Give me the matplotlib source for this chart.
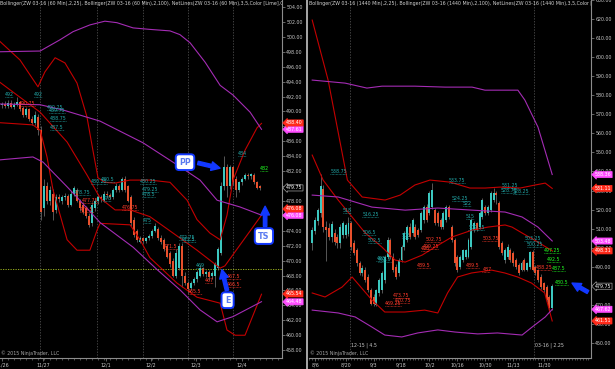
import matplotlib
matplotlib.use('Agg')
import matplotlib.pyplot as plt
import matplotlib.transforms as mtransforms
from matplotlib.lines import Line2D
from matplotlib.ticker import FormatStrFormatter, FixedLocator, MultipleLocator

UP = '#3cc8c0'
DOWN = '#e8502c'
DOJI = '#b0b0b0'
WICK = '#7a7a7a'
RED = '#c40000'
PURPLE = '#a42cb4'
CYAN = '#22a8a8'
LBL_RED = '#ff3a2a'
LIME = '#22ff22'
AXIS = '#8c8c8c'
TXT = '#c8c8c8'
BLUE = '#1238ff'

# ---------------- 60 min chart (left) ----------------
l_open = [490.8, 491.0, 490.7, 491.1, 490.6, 490.9, 491.2, 490.4, 489.5, 490.3,
          489.0, 488.5, 489.3, 487.5, 477.0, 480.0, 478.0, 479.0, 476.8, 478.5,
          478.0, 478.5, 478.7, 477.5, 479.0, 479.5, 478.0, 477.5, 477.0, 476.0,
          475.0, 477.0, 478.0, 478.5, 478.0, 479.0, 478.8, 478.5, 479.5, 480.0,
          479.5, 481.0, 480.0, 478.5, 475.5, 474.0, 472.5, 473.0, 472.7, 473.0,
          473.3, 474.0, 474.3, 473.0, 472.8, 472.0, 471.0, 470.0, 468.0, 469.0,
          472.0, 468.0, 467.0, 466.3, 467.0, 467.5, 468.0, 469.0, 468.2, 468.5,
          468.0, 468.0, 469.0, 471.0, 480.0, 482.5, 480.0, 482.5, 481.0, 479.5,
          480.5, 481.0, 481.5, 481.3, 481.5, 480.5, 480.0]
l_high = [491.3, 491.4, 491.5, 491.6, 491.2, 492.0, 491.4, 490.7, 490.6, 490.5,
          489.4, 490.0, 489.6, 488.0, 481.0, 480.6, 480.0, 479.6, 478.9, 479.0,
          478.8, 479.1, 479.0, 479.4, 480.0, 479.8, 478.3, 477.9, 477.3, 476.4,
          477.8, 478.3, 478.9, 478.8, 479.3, 479.4, 479.1, 479.8, 480.4, 480.3,
          481.2, 481.3, 480.2, 478.8, 475.9, 474.3, 473.3, 473.2, 473.2, 473.6,
          474.2, 475.0, 474.5, 473.4, 473.0, 472.2, 471.3, 470.4, 471.5, 472.4,
          472.3, 468.5, 467.3, 467.3, 467.8, 468.8, 469.4, 469.2, 468.8, 468.7,
          468.6, 469.8, 471.8, 480.5, 484.0, 483.0, 482.8, 482.7, 481.3, 480.7,
          481.2, 481.7, 481.8, 481.8, 481.7, 480.7, 480.2]
l_low = [490.4, 490.5, 490.5, 490.4, 490.3, 490.7, 490.0, 489.3, 489.2, 488.7,
         488.2, 488.2, 486.8, 475.5, 476.0, 477.6, 477.5, 475.5, 476.4, 477.8,
         477.6, 478.1, 477.2, 477.3, 478.7, 477.8, 476.7, 476.2, 475.7, 474.5,
         474.7, 476.6, 477.6, 477.8, 477.8, 478.4, 478.2, 478.3, 479.2, 479.2,
         479.3, 479.2, 477.8, 474.7, 473.2, 472.5, 472.3, 472.4, 472.4, 472.8,
         473.1, 473.8, 472.8, 472.2, 471.3, 470.3, 469.2, 467.8, 467.7, 468.7,
         466.5, 466.7, 465.6, 466.0, 466.7, 467.2, 467.8, 467.9, 467.8, 467.4,
         467.6, 466.5, 468.7, 470.8, 479.5, 478.5, 479.6, 480.2, 478.5, 479.2,
         480.2, 480.8, 481.0, 481.0, 480.3, 479.6, 479.5]
l_close = [491.0, 490.7, 491.1, 490.6, 490.9, 491.2, 490.3, 489.5, 490.3, 489.0,
           488.5, 489.5, 487.5, 476.5, 480.0, 478.0, 479.5, 476.5, 478.5, 478.2,
           478.5, 478.7, 477.5, 479.0, 479.7, 478.0, 477.0, 476.5, 476.0, 474.8,
           477.5, 478.0, 478.5, 478.2, 479.0, 478.8, 478.5, 479.5, 480.0, 479.5,
           481.0, 479.5, 478.0, 475.0, 473.5, 472.8, 473.0, 472.7, 473.0, 473.3,
           474.0, 474.7, 473.0, 472.5, 471.5, 470.5, 469.5, 468.0, 471.0, 472.0,
           468.0, 467.0, 466.2, 467.0, 467.5, 468.5, 469.0, 468.2, 468.5, 467.8,
           468.3, 469.5, 471.5, 480.0, 482.5, 480.0, 482.5, 480.5, 479.5, 480.5,
           481.0, 481.5, 481.3, 481.6, 480.5, 479.8, 479.75]

# Bollinger(25) and Bollinger(100) curves: (bar, price)
l_bb25_upper = [(-1, 499.5), (6, 496.9), (12, 493.3), (14.3, 495.3), (17.7, 497.2),
                (21, 496.5), (25, 493.8), (28.3, 489.3), (30.3, 484.8), (32, 481.1),
                (34.3, 480.5), (37.7, 480.4), (42.7, 480.8), (49.3, 480.8), (56, 480.5),
                (61.7, 478.1), (65, 475.5), (69.3, 473.7), (72.7, 472.8), (75, 476.1),
                (77, 480.8), (81, 484.8), (85, 487.8), (86.5, 488.4)]
l_bb25_mid = [(-1, 494.0), (5, 492.2), (12.7, 489.9), (21.7, 485.9), (28.3, 481.5),
              (32.7, 478.4), (37.7, 476.8), (42.7, 476.8), (49.3, 475.9), (57, 473.7),
              (65, 471.4), (72.7, 469.0), (74.3, 469.3), (86.5, 476.1)]
l_bb25_lower = [(-1, 488.5), (10.3, 488.2), (12.7, 487.5), (15, 483.9), (17, 479.5),
                (21.7, 472.8), (25, 471.4), (29.3, 471.4), (31.7, 474.1), (32.7, 475.0),
                (42.7, 474.8), (46, 472.8), (49.3, 470.4), (58.3, 467.0), (65, 465.1),
                (72.7, 464.3), (75, 460.7), (77.7, 460.0), (81, 460.0), (86.5, 465.5)]
l_bb100_upper = [(-1, 498.0), (12.7, 498.1), (19.3, 499.6), (23.7, 500.7), (29.3, 501.6),
                 (34.3, 502.1), (38.3, 501.9), (43.7, 501.2), (49.3, 501.0), (56, 500.8),
                 (59.3, 500.3), (62.7, 499.2), (67.7, 496.6), (72.7, 493.5), (77, 492.2),
                 (82.7, 489.9), (86.5, 487.6)]
l_bb100_mid = [(-1, 491.0), (12.7, 490.9), (20.3, 490.2), (32.7, 488.7), (47, 485.8),
               (59.3, 482.6), (66, 480.8), (71.7, 478.1), (79.3, 477.2), (86.5, 476.1)]
l_bb100_lower = [(-1, 483.5), (10.3, 483.9), (13.7, 483.2), (21.7, 479.9), (25, 478.5),
                 (32.7, 475.1), (43.7, 471.8), (51.7, 468.8), (59.3, 466.1), (66, 463.4),
                 (71.7, 461.8), (77, 462.5), (86.5, 464.5)]

l_entry_level = 468.9
l_day_lines = [12.7, 31.7, 47.0, 62.0, 77.0]
l_tick_pos = [0, 13.7, 34.7, 49.7, 64.7, 80]
l_tick_lbl = ['11/26', '11/27', '12/1', '12/2', '12/3', '12/4']

# NetLines swing labels: (bar, price, colour)
l_net = [(1, 492, CYAN), (10.5, 492, CYAN), (15, 490.25, CYAN), (15.5, 489.75, CYAN),
         (16, 488.75, CYAN), (16, 487.5, CYAN), (5.5, 490.75, LBL_RED),
         (33, 480.5, CYAN), (29.5, 480.25, CYAN), (24, 478.75, CYAN), (33.5, 478, CYAN),
         (46, 480.25, CYAN), (46.5, 479.25, CYAN), (46.5, 478.5, CYAN), (47, 475, CYAN),
         (26.5, 477.75, LBL_RED), (26, 476.5, LBL_RED), (40, 476.75, LBL_RED),
         (59, 472.75, CYAN), (60, 472.5, CYAN), (54, 471.5, LBL_RED), (64.5, 469, CYAN),
         (67.5, 467, LBL_RED), (75, 467.5, LBL_RED), (75, 466.5, LBL_RED),
         (62, 465.5, LBL_RED), (78.5, 484, CYAN), (86, 482, LIME)]

# price markers on the axis: (value, kind)
l_marks = [(487.61, 'mag'), (488.40, 'red'), (479.75, 'last'), (476.08, 'mag'),
           (476.08, 'red'), (464.48, 'mag'), (465.54, 'red')]

# ---------------- daily chart (right) ----------------
r_open = [502.3, 509.0, 514.0, 518.0, 531.0, 511.0, 510.5, 505.5, 507.5, 505.5,
          502.3, 506.5, 506.5, 507.0, 512.8, 502.3, 498.7, 491.7, 486.5, 488.2,
          484.7, 478.0, 474.0, 470.0, 476.0, 477.7, 483.0, 495.2, 504.0, 495.2,
          490.0, 486.5, 493.5, 500.5, 504.0, 511.0, 507.5, 511.0, 509.2, 509.2,
          514.5, 521.5, 518.0, 521.5, 519.7, 518.0, 514.5, 511.0, 514.5, 521.5,
          511.0, 504.0, 495.2, 490.0, 493.5, 495.2, 495.2, 500.5, 509.2, 512.8,
          511.0, 516.2, 521.5, 518.0, 519.7, 525.0, 528.5, 523.2, 502.3, 493.5,
          495.2, 498.7, 497.0, 493.5, 490.9, 488.2, 493.5, 488.2, 490.0, 497.9,
          490.0, 488.2, 484.7, 481.2, 479.5, 474.2, 468.1]
r_high = [511.0, 516.0, 521.0, 538.75, 533.0, 514.0, 513.0, 514.0, 510.0, 507.0,
          512.5, 514.0, 513.0, 516.2, 514.0, 504.0, 500.0, 493.0, 491.0, 490.0,
          486.0, 479.0, 475.5, 478.5, 484.0, 487.5, 496.0, 505.5, 505.0, 497.0,
          491.5, 494.5, 501.5, 508.5, 512.0, 513.0, 515.5, 512.5, 510.5, 519.0,
          522.5, 523.0, 529.5, 533.75, 521.0, 519.0, 515.5, 519.0, 522.5, 522.5,
          512.0, 505.0, 496.0, 496.0, 499.5, 499.5, 505.0, 515.5, 513.8, 513.5,
          519.0, 526.0, 522.5, 522.5, 529.5, 531.25, 530.0, 524.5, 503.5, 500.0,
          502.0, 500.0, 498.0, 494.5, 492.0, 493.0, 494.5, 492.5, 498.5, 498.8,
          491.0, 489.0, 486.0, 482.0, 480.5, 475.0, 481.0]
r_low = [499.0, 507.0, 512.0, 516.0, 508.0, 493.0, 504.0, 503.0, 501.5, 500.0,
         500.0, 505.0, 505.0, 506.0, 499.0, 496.0, 490.5, 485.5, 485.0, 482.0,
         476.5, 469.8, 469.25, 469.5, 474.5, 476.0, 481.5, 494.0, 494.0, 487.0,
         483.5, 485.0, 492.5, 499.0, 503.0, 504.5, 506.0, 504.5, 505.5, 508.0,
         513.0, 513.5, 517.0, 520.5, 512.0, 511.5, 510.0, 510.0, 513.5, 515.0,
         503.0, 490.5, 487.0, 489.0, 492.5, 494.0, 494.5, 499.5, 508.0, 508.5,
         510.0, 515.0, 517.0, 517.0, 518.5, 524.0, 523.0, 499.5, 496.0, 492.0,
         494.0, 492.5, 490.5, 489.0, 485.5, 487.5, 487.5, 487.5, 489.0, 487.5,
         485.5, 482.0, 478.5, 476.5, 471.5, 467.3, 467.5]
r_close = [509.3, 514.5, 519.7, 532.5, 511.0, 509.5, 505.7, 512.5, 503.0, 502.3,
           511.0, 512.8, 512.0, 512.8, 500.5, 497.0, 491.7, 486.5, 489.1, 483.0,
           478.0, 470.5, 470.5, 477.7, 483.0, 486.5, 495.2, 504.0, 495.2, 488.2,
           484.7, 493.5, 500.5, 507.5, 511.0, 505.7, 514.5, 505.7, 506.6, 518.0,
           521.5, 514.5, 528.5, 530.2, 512.8, 512.8, 511.0, 518.0, 521.5, 516.2,
           504.0, 491.7, 488.2, 495.2, 498.7, 498.7, 504.0, 514.5, 512.8, 509.2,
           518.0, 525.0, 518.0, 521.5, 528.5, 528.5, 527.5, 500.5, 497.0, 498.7,
           500.5, 493.5, 491.7, 490.0, 486.5, 491.7, 488.2, 491.7, 497.9, 488.2,
           486.5, 483.0, 479.5, 477.7, 472.5, 468.1, 479.75]

r_bb25_upper = [(0, 619.5), (5.7, 588.0), (12.6, 535.5), (17.9, 526.6), (26.1, 525.0),
                (31.5, 527.6), (36.8, 532.9), (42.2, 535.5), (49.4, 534.4), (56.5, 531.3),
                (62, 531.3), (67.3, 531.8), (74.5, 531.3), (79.9, 532.9), (83.5, 533.9),
                (86, 531.1)]
r_bb25_mid = [(0, 548.6), (3.9, 535.5), (9.3, 525.0), (14.3, 516.1), (19, 507.7),
              (25, 500.3), (29.7, 493.5), (33.3, 492.4), (39.4, 496.1), (44, 500.3),
              (50.1, 505.6), (57.3, 509.2), (63, 510.8), (69.1, 511.9), (71.6, 510.8),
              (75.2, 507.7), (80.9, 502.9), (86, 498.3)]
r_bb25_lower = [(0, 476.2), (4.6, 474.1), (10.7, 479.3), (14.3, 484.6), (21.4, 472.5),
                (26, 466.2), (33.2, 466.2), (40.3, 467.2), (45, 465.7), (48.5, 476.2),
                (52.1, 484.6), (57.1, 486.7), (64.3, 488.2), (69, 486.7), (73.6, 484.6),
                (78.6, 481.4), (83.3, 476.2), (86, 461.5)]
r_bb100_upper = [(0, 588.0), (11.8, 586.4), (19.6, 583.8), (25, 584.8), (36.8, 584.8),
                 (47.6, 584.3), (57.3, 584.3), (61.9, 582.7), (73.7, 582.7), (76.2, 577.5),
                 (80.9, 563.3), (86, 538.4)]
r_bb100_mid = [(0, 527.6), (9.3, 526.6), (21.4, 521.3), (33.3, 519.7), (45, 520.8),
               (57.3, 519.7), (69.1, 518.7), (75.2, 516.1), (80.9, 510.8), (86, 503.5)]
r_bb100_lower = [(0, 467.2), (9.3, 465.7), (15.4, 463.6), (21.4, 458.3), (26, 454.1),
                 (32.1, 453.1), (37.8, 455.2), (45, 456.8), (51.1, 455.7), (59.3, 454.7),
                 (66.4, 455.2), (75.2, 454.1), (78.8, 458.3), (83.5, 463.6), (86, 467.6)]

r_roll_lines = [13.5, 79.5]
r_roll_text = ['12-15 | 4.5', '03-16 | 2.25']
r_tick_pos = [1, 12, 22, 32, 42, 52, 62, 72, 83]
r_tick_lbl = ['8/6', '8/20', '9/3', '9/18', '10/2', '10/16', '10/30', '11/13', '11/30']

r_net = [(6.5, 538.75, CYAN), (11, 518, CYAN), (18, 516.25, CYAN), (18, 506.5, CYAN),
         (20, 502.5, CYAN), (23, 493, CYAN), (23.5, 492.5, CYAN), (32, 505, CYAN),
         (49, 533.75, CYAN), (50, 524.25, CYAN), (54, 522, CYAN), (55, 515, CYAN),
         (56, 509.25, CYAN), (68, 531.25, CYAN), (67.5, 528.75, CYAN), (72, 528.25, CYAN),
         (76, 503.25, CYAN), (77, 500.25, CYAN),
         (40.5, 502.75, LBL_RED), (39.5, 499.25, LBL_RED), (39, 498, LBL_RED),
         (37.5, 489.5, LBL_RED), (61, 503.75, LBL_RED), (55, 489.5, LBL_RED),
         (61, 487, LBL_RED), (29, 473.75, LBL_RED), (29.5, 470.75, LBL_RED),
         (26, 469.25, LBL_RED), (80, 488.25, LBL_RED),
         (83, 497.25, LIME), (84, 492.5, LIME), (86, 487.5, LIME), (87, 480.5, LIME)]

r_marks = [(538.36, 'mag'), (531.11, 'red'), (503.48, 'mag'), (498.31, 'red'),
           (479.75, 'last'), (467.62, 'mag'), (461.51, 'red')]


def fmt(p):
    return ('%.2f' % p).rstrip('0').rstrip('.')


def candles(ax, o, h, lo, c, width, min_body):
    xs = list(range(len(o)))
    cols = [UP if c[i] > o[i] else DOWN if c[i] < o[i] else DOJI for i in xs]
    ax.vlines(xs, lo, h, color=WICK, lw=0.5, zorder=2)
    heights = [max(abs(c[i] - o[i]), min_body) for i in xs]
    bottoms = [min(c[i], o[i]) for i in xs]
    ax.bar(xs, heights, bottom=bottoms, width=width, color=cols, linewidth=0, zorder=3)


def curve(ax, pts, color):
    ax.plot([p[0] for p in pts], [p[1] for p in pts], color=color, lw=0.8, zorder=4)


def net_labels(ax, items, char_w):
    for x, p, col in items:
        s = fmt(p)
        ax.plot([x, x + len(s) * char_w], [p, p], color=col, lw=0.5,
                ls=(0, (1, 1)), zorder=5)
        ax.text(x, p, s, color=col, fontsize=3.4, va='bottom', ha='left', zorder=5)


def markers(ax, items, sep):
    trans = mtransforms.blended_transform_factory(ax.transAxes, ax.transData)
    styles = {'red': ('#ff2a1a', '#ff2a1a'), 'mag': ('#ff4dff', '#ff4dff'),
              'last': ('black', '#a0a0a0')}
    placed = []
    for v, kind in sorted(items, key=lambda t: t[0]):
        y = v
        if placed and y - placed[-1] < sep:
            y = placed[-1] + sep
        placed.append(y)
        fc, ec = styles[kind]
        ax.text(1.014, y, '%.2f' % v, transform=trans, fontsize=3.4, color='white',
                va='center', ha='left', zorder=10, clip_on=False,
                bbox=dict(boxstyle='larrow,pad=0.12', fc=fc, ec=ec, lw=0.5))


def style_axes(ax):
    ax.set_facecolor('black')
    for s in ('top', 'left'):
        ax.spines[s].set_visible(False)
    for s in ('right', 'bottom'):
        ax.spines[s].set_color(AXIS)
        ax.spines[s].set_linewidth(0.8)
    ax.yaxis.tick_right()
    ax.yaxis.set_major_formatter(FormatStrFormatter('%.2f'))
    ax.tick_params(axis='both', which='major', colors=AXIS, labelcolor=TXT,
                   labelsize=3.4, length=2, width=0.5, pad=1)
    ax.tick_params(axis='x', which='minor', colors=AXIS, length=1.2, width=0.4)


def arrow(ax, tail, head):
    ax.annotate('', xy=head, xytext=tail, zorder=12,
                arrowprops=dict(arrowstyle='simple,head_length=0.9,head_width=0.9,tail_width=0.35',
                                fc=BLUE, ec=BLUE, mutation_scale=7,
                                shrinkA=0, shrinkB=0))


def tag(ax, x, y, s):
    ax.text(x, y, s, fontsize=5.8, fontweight='bold', color='#5a7af0', ha='center',
            va='center', zorder=13,
            bbox=dict(boxstyle='round,pad=0.42', fc='white', ec=BLUE, lw=1.4))


W, H = 615, 369
fig = plt.figure(figsize=(6.15, 3.69), dpi=100, facecolor='black')
axL = fig.add_axes([0 / W, 11 / H, 282 / W, 358 / H])
axR = fig.add_axes([309 / W, 11 / H, 282 / W, 358 / H])
fig.add_artist(Line2D([307 / W, 307 / W], [0, 1], color='#b4b4b4', lw=1.3))

# ---- left ----
style_axes(axL)
axL.set_xlim(-0.667, 93.33)
axL.set_ylim(456.95, 504.94)
axL.yaxis.set_major_locator(MultipleLocator(2))
axL.xaxis.set_major_locator(FixedLocator(l_tick_pos))
axL.set_xticklabels(l_tick_lbl)
axL.xaxis.set_minor_locator(MultipleLocator(2))
for d in l_day_lines:
    axL.axvline(d, color='#5a5a5a', lw=0.5, ls=(0, (2, 2)), zorder=1)
axL.axhline(l_entry_level, color='#a8c020', lw=0.6, ls=(0, (1.5, 1.5)), zorder=1)
candles(axL, l_open, l_high, l_low, l_close, 0.65, 0.06)
for pts in (l_bb25_upper, l_bb25_mid, l_bb25_lower):
    curve(axL, pts, RED)
for pts in (l_bb100_upper, l_bb100_mid, l_bb100_lower):
    curve(axL, pts, PURPLE)
net_labels(axL, l_net, 0.9)
markers(axL, l_marks, 0.85)

tag(axL, 61.0, 483.2, 'PP')
arrow(axL, (65.3, 483.1), (72.7, 482.4))
tag(axL, 87.3, 473.3, 'TS')
arrow(axL, (87.7, 474.6), (87.7, 477.3))
tag(axL, 75.2, 464.7, 'E')
arrow(axL, (75.0, 466.0), (73.3, 468.8))

t = axL.text(0.0, 0.997, 'Bollinger(ZW 03-16 (60 Min),2,25), Bollinger(ZW 03-16 (60 Min),2,100), '
             'NetLines(ZW 03-16 (60 Min),3,5,Color [Lime],C', transform=axL.transAxes,
             fontsize=3.4, color='#d0d0d0', va='top', ha='left', zorder=6)
t.set_clip_box(axL.bbox)
t.set_clip_on(True)
axL.text(0.003, 0.006, '\u00a9 2015 NinjaTrader, LLC', transform=axL.transAxes,
         fontsize=3.4, color='#a8a8a8', va='bottom', ha='left')

# ---- right ----
style_axes(axR)
axR.set_xlim(-1.15, 99.9)
axR.set_ylim(442.05, 630.05)
axR.yaxis.set_major_locator(MultipleLocator(10))
axR.xaxis.set_major_locator(FixedLocator(r_tick_pos))
axR.set_xticklabels(r_tick_lbl)
axR.xaxis.set_minor_locator(MultipleLocator(1))
for d, s in zip(r_roll_lines, r_roll_text):
    axR.axvline(d, color='#5a5a5a', lw=0.5, ls=(0, (2, 2)), zorder=1)
    axR.text(d + 0.4, 448.5, s, fontsize=3.4, color=TXT, ha='left', va='center')
candles(axR, r_open, r_high, r_low, r_close, 0.7, 0.25)
for pts in (r_bb25_upper, r_bb25_mid, r_bb25_lower):
    curve(axR, pts, RED)
for pts in (r_bb100_upper, r_bb100_mid, r_bb100_lower):
    curve(axR, pts, PURPLE)
net_labels(axR, r_net, 0.95)
markers(axR, r_marks, 3.3)
arrow(axR, (98.8, 476.7), (93.1, 481.4))

t = axR.text(0.0, 0.997, 'Bollinger(ZW 03-16 (1440 Min),2,25), Bollinger(ZW 03-16 (1440 Min),2,100), '
             'NetLines(ZW 03-16 (1440 Min),3,5,Color [Lime],C', transform=axR.transAxes,
             fontsize=3.4, color='#d0d0d0', va='top', ha='left', zorder=6)
t.set_clip_box(axR.bbox)
t.set_clip_on(True)
axR.text(0.003, 0.006, '\u00a9 2015 NinjaTrader, LLC', transform=axR.transAxes,
         fontsize=3.4, color='#a8a8a8', va='bottom', ha='left')

fig.savefig('out.png', dpi=100, facecolor='black')
